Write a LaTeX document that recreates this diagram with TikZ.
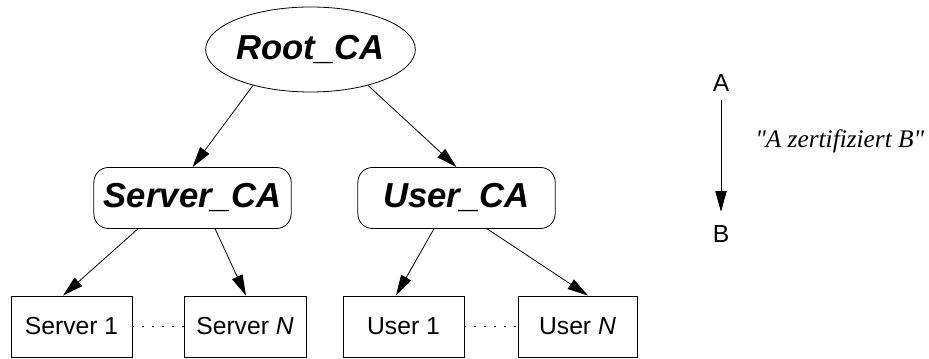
\documentclass[tikz,border=0pt]{standalone}
\usepackage{fontspec}
\setmainfont{Liberation Sans}
\newfontfamily\timesfont{Liberation Serif}
\usetikzlibrary{arrows.meta,shapes.geometric,calc}
\tikzset{
  conn/.style={line width=0.6pt,-{Triangle[length=15.5pt,width=8.5pt]}},
  canode/.style={draw,line width=0.6pt,font=\fontsize{26}{28}\selectfont\bfseries\itshape,inner sep=0pt},
  cabox/.style={canode,rounded corners=11pt,minimum width=148pt,minimum height=45.75pt},
  leaf/.style={draw,line width=0.6pt,font=\fontsize{18.5}{20}\selectfont,inner sep=0pt,minimum height=45.75pt},
  dotline/.style={line width=0.9pt,dash pattern=on 0.9pt off 6.6pt},
  lbl/.style={font=\fontsize{18.5}{20}\selectfont,inner sep=0pt}
}
\begin{document}
\begin{tikzpicture}[x=0.75pt,y=0.75pt]
\path[use as bounding box] (0,0) rectangle (929,359);
% nodes
\node[canode,ellipse,minimum width=143.25pt,minimum height=63.75pt] (root) at (310.5,309.5) {Root\_CA};
\node[cabox] (sca) at (192.5,161) {Server\_CA};
\node[cabox] (uca) at (456.5,161) {User\_CA};
\node[leaf,minimum width=90.75pt] (s1) at (71.5,32.5) {Server 1};
\node[leaf,minimum width=91.5pt] (sN) at (245,32.5) {Server \textit{N}};
\node[leaf,minimum width=90.75pt] (u1) at (403.5,32.5) {User 1};
\node[leaf,minimum width=89.25pt] (uN) at (577.5,32.5) {User \textit{N}};
% legend
\node[lbl,anchor=base] (A) at (721,267) {A};
\node[lbl,anchor=base] (B) at (721,116) {B};
\node[anchor=base west,inner sep=0pt,font=\timesfont\fontsize{19}{21}\selectfont\itshape] (cap) at (755,211) {"A zertifiziert B"};
% connectors
\draw[conn] (root.212) -- (sca.north);
\draw[conn] (root.328) -- (uca.north);
\draw[conn] ($(sca.south west)!0.224!(sca.south east)$) -- ($(s1.north west)!0.43!(s1.north east)$);
\draw[conn] ($(sca.south west)!0.614!(sca.south east)$) -- ($(sN.north west)!0.508!(sN.north east)$);
\draw[conn] ($(uca.south west)!0.386!(uca.south east)$) -- ($(u1.north west)!0.438!(u1.north east)$);
\draw[conn] ($(uca.south west)!0.655!(uca.south east)$) -- ($(uN.north west)!0.588!(uN.north east)$);
\draw[dotline] (s1.east) -- (sN.west);
\draw[dotline] (u1.east) -- (uN.west);
\draw[conn,shorten <=6pt,shorten >=10.5pt] (A.south) -- (B.north);
\end{tikzpicture}
\end{document}
